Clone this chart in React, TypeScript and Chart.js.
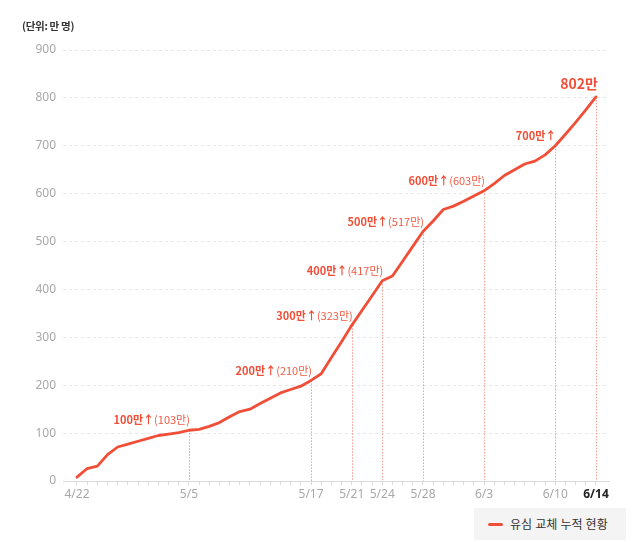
import React, { useEffect, useRef } from "react";
import { Chart, registerables } from "chart.js";

Chart.register(...registerables);

const dates = [
  "4/22", "4/25", "4/26", "4/27", "4/28", "4/29", "4/30",
  "5/1", "5/2", "5/3", "5/4", "5/5", "5/6", "5/7", "5/8", "5/9", "5/10",
  "5/11", "5/12", "5/13", "5/14", "5/15", "5/16", "5/17", "5/18", "5/19", "5/20",
  "5/21", "5/22", "5/23", "5/24", "5/25", "5/26", "5/27", "5/28", "5/29", "5/30", "5/31",
  "6/1", "6/2", "6/3", "6/4", "6/5", "6/6", "6/7", "6/8", "6/9", "6/10",
  "6/11", "6/12", "6/13", "6/14",
];

const cumulative = [
  8, 26, 31, 55, 71, 77, 83, 89, 95, 98, 101, 106, 108, 114, 122, 134, 145, 150,
  162, 173, 184, 191, 198, 210, 224, 258, 291, 325, 356, 387, 418, 428, 459, 490,
  521, 543, 567, 574, 584, 595, 606, 621, 638, 650, 662, 668, 681, 700, 724, 749,
  775, 802,
];

const shownDates = ["4/22", "5/5", "5/17", "5/21", "5/24", "5/28", "6/3", "6/10", "6/14"];

const yTicks = [0, 100, 200, 300, 400, 500, 600, 700, 800, 900];

const annDates = ["5/5", "5/17", "5/21", "5/24", "5/28", "6/3", "6/10", "6/14"];
const annMain = ["100만↑", "200만↑", "300만↑", "400만↑", "500만↑", "600만↑", "700만↑", "802만"];
const annSub = ["(103만)", "(210만)", "(323만)", "(417만)", "(517만)", "(603만)", "", ""];

const seriesLabel = "유심 교체 누적 현황";
const RED = "#f04e37";
const FONT = "'Noto Sans', 'Noto Sans CJK KR', sans-serif";
const KFONT = "'Noto Sans CJK KR', 'Noto Sans', sans-serif";

const annotationPlugin = {
  id: "annotations",
  beforeDatasetsDraw(chart: any) {
    const { ctx, chartArea } = chart;
    const xs = chart.scales.x;
    const ys = chart.scales.y;
    ctx.save();
    ctx.strokeStyle = "rgba(240,78,55,0.55)";
    ctx.lineWidth = 1;
    ctx.setLineDash([1.5, 1.5]);
    annDates.forEach((d) => {
      const i = dates.indexOf(d);
      const px = Math.round(xs.getPixelForValue(i)) + 0.5;
      const py = ys.getPixelForValue(cumulative[i]);
      ctx.beginPath();
      ctx.moveTo(px, py);
      ctx.lineTo(px, chartArea.bottom);
      ctx.stroke();
    });
    ctx.restore();
  },
  afterDatasetsDraw(chart: any) {
    const { ctx } = chart;
    const xs = chart.scales.x;
    const ys = chart.scales.y;
    ctx.save();
    ctx.textBaseline = "middle";
    ctx.textAlign = "right";
    annDates.forEach((d, k) => {
      const i = dates.indexOf(d);
      const px = xs.getPixelForValue(i);
      const py = ys.getPixelForValue(cumulative[i]);
      const last = k === annDates.length - 1;
      if (last) {
        ctx.font = `bold 14px ${KFONT}`;
        ctx.fillStyle = RED;
        ctx.fillText(annMain[k], px + 2, py - 13);
        return;
      }
      let right = px + 1;
      const ty = py - 10;
      if (annSub[k]) {
        ctx.font = `11px ${KFONT}`;
        ctx.fillStyle = "#ef5b45";
        ctx.fillText(annSub[k], right, ty);
        right -= ctx.measureText(annSub[k]).width;
      }
      ctx.font = `bold 11px ${KFONT}`;
      ctx.fillStyle = RED;
      ctx.fillText(annMain[k], right, ty);
    });
    ctx.restore();
  },
};

function LineChart() {
  const ref = useRef<HTMLCanvasElement>(null);
  useEffect(() => {
    if (!ref.current) return;
    const chart = new Chart(ref.current, {
      type: "line",
      data: {
        datasets: [
          {
            label: seriesLabel,
            data: cumulative.map((v, i) => ({ x: i, y: v })),
            borderColor: RED,
            backgroundColor: RED,
            borderWidth: 2.8,
            pointRadius: 0,
            tension: 0,
            borderJoinStyle: "round",
            borderCapStyle: "round",
          },
        ],
      },
      options: {
        animation: false,
        responsive: false,
        maintainAspectRatio: false,
        layout: { padding: { top: 50, right: 31, bottom: 31, left: 0 } },
        plugins: {
          legend: { display: false },
          tooltip: { enabled: false },
        },
        scales: {
          x: {
            type: "linear",
            min: -1.375,
            max: 52.28,
            afterBuildTicks: (axis: any) => {
              axis.ticks = dates.map((_, i) => ({ value: i }));
            },
            afterFit: (axis: any) => {
              axis.height = 30;
            },
            border: { display: true, color: "#d9d9d9", width: 1 },
            grid: {
              drawOnChartArea: false,
              drawTicks: true,
              tickLength: 4,
              tickColor: "#d9d9d9",
            },
            ticks: {
              autoSkip: false,
              maxRotation: 0,
              padding: 2,
              callback: (value: any) => {
                const lab = dates[value];
                return shownDates.includes(lab) ? lab : "";
              },
              color: (c: any) => (c.tick && c.tick.value === dates.length - 1 ? "#222" : "#a8a8a8"),
              font: (c: any) =>
                c.tick && c.tick.value === dates.length - 1
                  ? { family: FONT, size: 12, weight: "bold" }
                  : { family: FONT, size: 12 },
            },
          },
          y: {
            min: 0,
            max: 900,
            afterBuildTicks: (axis: any) => {
              axis.ticks = yTicks.map((v) => ({ value: v }));
            },
            afterFit: (axis: any) => {
              axis.width = 63;
            },
            border: { display: false, dash: [3, 3] },
            grid: {
              drawTicks: false,
              color: (c: any) => (c.tick && c.tick.value === 0 ? "rgba(0,0,0,0)" : "#e6e6e6"),
              lineWidth: 1,
            },
            ticks: {
              padding: 7,
              color: "#a8a8a8",
              font: { family: FONT, size: 12 },
            },
          },
        },
      },
      plugins: [annotationPlugin],
    } as any);
    return () => chart.destroy();
  }, []);
  return <canvas ref={ref} width={640} height={542} style={{ position: "absolute", left: 0, top: 0 }} />;
}

export default function App() {
  return (
    <div
      style={{
        position: "absolute",
        left: 0,
        top: 0,
        width: 640,
        height: 542,
        background: "#fff",
        fontFamily: FONT,
        overflow: "hidden",
      }}
    >
      <LineChart />
      <div
        style={{
          position: "absolute",
          left: 22,
          top: 18,
          fontSize: 10.5,
          fontFamily: KFONT,
          fontWeight: 700,
          color: "#333",
          lineHeight: "16px",
          letterSpacing: -0.3,
        }}
      >
        (단위: 만 명)
      </div>
      <div
        style={{
          position: "absolute",
          left: 474,
          top: 508,
          width: 152,
          height: 32,
          background: "#f4f4f4",
          display: "flex",
          alignItems: "center",
          boxSizing: "border-box",
          paddingLeft: 14,
        }}
      >
        <span
          style={{
            display: "inline-block",
            width: 15,
            height: 3,
            borderRadius: 2,
            background: RED,
            marginRight: 7,
          }}
        />
        <span style={{ fontSize: 12, color: "#333" }}>{seriesLabel}</span>
      </div>
    </div>
  );
}
